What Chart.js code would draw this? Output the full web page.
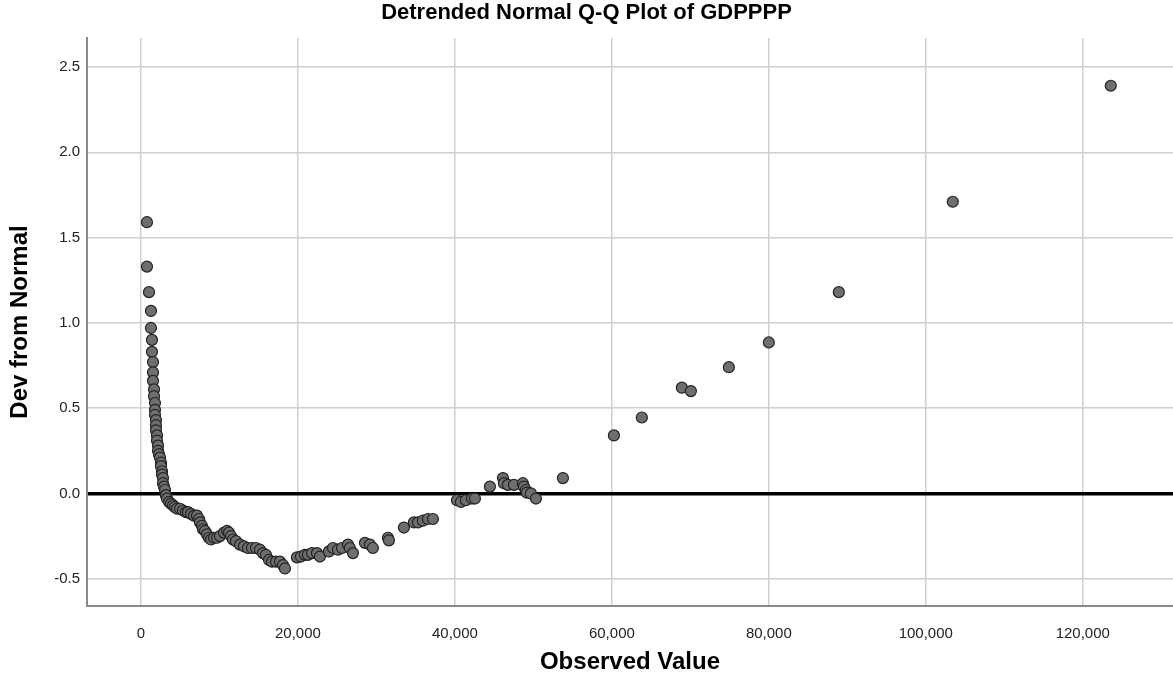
<!DOCTYPE html>
<html>
<head>
<meta charset="utf-8">
<title>Detrended Normal Q-Q Plot of GDPPPP</title>
<script src="https://cdn.jsdelivr.net/npm/chart.js@4.4.1/dist/chart.umd.min.js"></script>
<style>
    html, body { margin: 0; padding: 0; background: #fff; }
    #qqChart { display: block; }
</style>
</head>
<body>
<canvas id="qqChart" width="1173" height="677"></canvas>
<script>
// observed GDP per capita (PPP) and the deviation from the normal line
const observedValues = [
    760, 760, 1020, 1270, 1270, 1400, 1400, 1530, 1530, 1530, 1660, 1660, 1780, 1780, 1780,
    1910, 1910, 1910, 2040, 2040, 2170, 2170, 2290, 2420, 2550, 2550, 2680, 2680, 2800, 2800,
    2930, 3060, 3180, 3310,
    3570, 3820, 4080, 4330, 4590, 4970, 5350, 5730, 5990, 6370, 6750, 7130, 7390, 7520, 7770,
    7900, 8150, 8410, 8660, 8920, 9300, 9680, 10060, 10570, 10960, 11210, 11470, 11720, 12100,
    12610, 13120, 13630, 14140, 14650, 15160, 15540, 15920, 16310, 16690, 17200, 17710, 18090, 18340,
    19870, 20380, 20890, 21270, 21780, 22420, 22800, 23950, 24460, 25100, 25610, 26370, 26620,
    27010, 28540, 29170, 29550, 31470, 31590, 33500, 34780, 35290, 35920, 36560, 37200,
    40260, 40770, 41400, 42170, 42550, 44460, 46120, 46240, 46750, 47520, 48660, 48790, 49050,
    49170, 49680, 50320,
    53760, 60260, 63820, 68920, 70070, 74910, 80000, 88920, 103440, 123570
];
const devFromNormal = [
    1.59, 1.33, 1.18, 1.07, 0.97, 0.90, 0.83, 0.77, 0.71, 0.66, 0.61, 0.57, 0.53, 0.49, 0.46,
    0.43, 0.40, 0.37, 0.34, 0.31, 0.28, 0.25, 0.23, 0.21, 0.18, 0.16, 0.13, 0.11, 0.09, 0.06,
    0.04, 0.02, -0.01, -0.03,
    -0.05, -0.06, -0.07, -0.08, -0.09, -0.09, -0.10, -0.11, -0.11, -0.12, -0.13, -0.13, -0.15, -0.17, -0.19,
    -0.21, -0.22, -0.24, -0.26, -0.27, -0.26, -0.26, -0.25, -0.23, -0.22, -0.23, -0.25, -0.27, -0.28,
    -0.30, -0.31, -0.32, -0.32, -0.32, -0.33, -0.35, -0.36, -0.39, -0.40, -0.40, -0.40, -0.42, -0.44,
    -0.375, -0.37, -0.36, -0.36, -0.35, -0.35, -0.37, -0.34, -0.32, -0.33, -0.32, -0.30, -0.32,
    -0.35, -0.29, -0.30, -0.32, -0.26, -0.275, -0.20, -0.17, -0.17, -0.16, -0.15, -0.15,
    -0.04, -0.05, -0.04, -0.03, -0.03, 0.04, 0.09, 0.06, 0.05, 0.05, 0.06, 0.04, 0.02,
    0.005, 0.0, -0.03,
    0.09, 0.34, 0.445, 0.62, 0.60, 0.74, 0.885, 1.18, 1.71, 2.39
];

const xTicks = [0, 20000, 40000, 60000, 80000, 100000, 120000];
const yTicks = [-0.5, 0.0, 0.5, 1.0, 1.5, 2.0, 2.5];

const points = observedValues.map((v, i) => ({ x: v, y: devFromNormal[i] }));

const ctx = document.getElementById('qqChart').getContext('2d');
const fontFamily = '"Liberation Sans", Arial, sans-serif';

const qqChart = new Chart(ctx, {
    type: 'scatter',
    data: {
        datasets: [{
            label: 'GDPPPP',
            data: points,
            backgroundColor: '#6e6e6e',
            borderColor: '#222',
            borderWidth: 1.2,
            pointRadius: 5.5,
            pointHoverRadius: 5.5
        }]
    },
    options: {
        responsive: false,
        animation: false,
        layout: { padding: 0, autoPadding: false },
        plugins: {
            legend: { display: false },
            tooltip: { enabled: false },
            title: {
                display: true,
                text: 'Detrended Normal Q-Q Plot of GDPPPP',
                color: '#000',
                font: { family: fontFamily, size: 22, weight: 'bold' },
                padding: { top: 0, bottom: 11.6 }
            }
        },
        scales: {
            x: {
                type: 'linear',
                min: -6880,
                max: 131500,
                afterBuildTicks: (scale) => {
                    scale.ticks = xTicks.map(v => ({ value: v }));
                },
                afterFit: (scale) => {
                    // let the plot run to the right edge
                    scale.height = 71;
                    scale.paddingLeft = 0;
                    scale.paddingRight = 0;
                },
                ticks: {
                    color: '#222',
                    font: { family: fontFamily, size: 15 },
                    padding: 19,
                    maxRotation: 0,
                    callback: (v) => v.toLocaleString('en-US')
                },
                grid: {
                    color: '#cfcfcf',
                    lineWidth: 1.5,
                    drawTicks: false
                },
                border: { color: '#8a8a8a', width: 2 },
                title: {
                    display: true,
                    text: 'Observed Value',
                    color: '#000',
                    font: { family: fontFamily, size: 24, weight: 'bold' },
                    padding: { top: 0, bottom: 0 }
                }
            },
            y: {
                type: 'linear',
                min: -0.66,
                max: 2.67,
                afterBuildTicks: (scale) => {
                    scale.ticks = yTicks.map(v => ({ value: v }));
                },
                afterFit: (scale) => { scale.width = 87; },
                ticks: {
                    color: '#222',
                    font: { family: fontFamily, size: 15 },
                    padding: 7,
                    callback: (v) => v.toFixed(1)
                },
                grid: {
                    // the zero line is drawn heavy and black
                    color: (c) => c.tick && c.tick.value === 0 ? '#000' : '#cfcfcf',
                    lineWidth: (c) => c.tick && c.tick.value === 0 ? 3.5 : 1.5,
                    drawTicks: false
                },
                border: { color: '#8a8a8a', width: 2 },
                title: {
                    display: true,
                    text: 'Dev from Normal',
                    color: '#000',
                    font: { family: fontFamily, size: 24, weight: 'bold' },
                    padding: { top: 6, bottom: 0 }
                }
            }
        }
    }
});
</script>
</body>
</html>
